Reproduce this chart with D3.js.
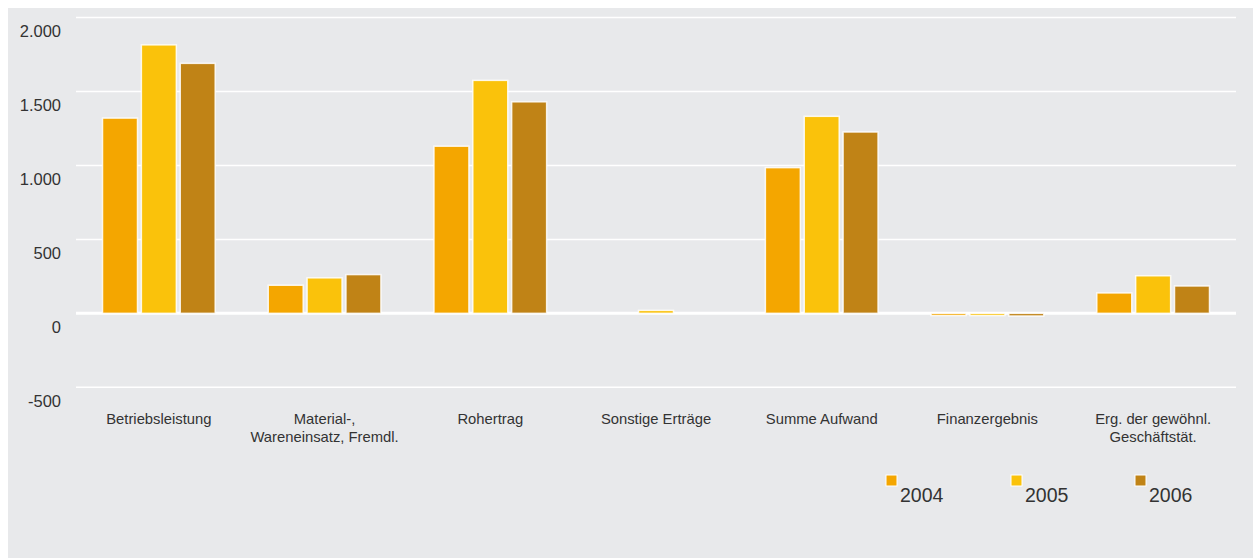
<!DOCTYPE html>
<html>
<head>
<meta charset="utf-8">
<script src="https://cdn.jsdelivr.net/npm/d3@7"></script>
<style>
  html, body { margin: 0; padding: 0; background: #ffffff; }
  svg { display: block; font-family: "Liberation Sans", Arial, sans-serif; }
  svg text { font-family: "Liberation Sans", Arial, sans-serif; }
</style>
</head>
<body>
<svg id="chart" width="1253" height="558"></svg>
<script>
const categories = [
  ["Betriebsleistung"],
  ["Material-,", "Wareneinsatz, Fremdl."],
  ["Rohertrag"],
  ["Sonstige Erträge"],
  ["Summe Aufwand"],
  ["Finanzergebnis"],
  ["Erg. der gewöhnl.", "Geschäftstät."]
];
const years = ["2004", "2005", "2006"];
const values2004 = [1320, 190, 1130, 0, 985, -15, 138];
const values2005 = [1815, 240, 1575, 20, 1332, -15, 254];
const values2006 = [1690, 262, 1430, 0, 1226, -18, 185];
const yTicks = [-500, 0, 500, 1000, 1500, 2000];
const yTickLabels = ["-500", "0", "500", "1.000", "1.500", "2.000"];
const colors = ["#F4A600", "#FAC20B", "#C08316"];

const series = [values2004, values2005, values2006];
const svg = d3.select("#chart");

// background panel
svg.append("rect").attr("x", 8).attr("y", 8).attr("width", 1245).attr("height", 550).attr("fill", "#E8E9EB");

const left = 76, right = 1236;
const y = d3.scaleLinear().domain([-500, 2000]).range([387.3, 17.5]);
const x0 = d3.scaleBand().domain(d3.range(categories.length)).range([left, right]).padding(0);
const bw = x0.bandwidth();
const x1 = d3.scaleBand().domain(years).range([bw * 0.16, bw * 0.84]).paddingInner(0.1);

// grid lines
const grid = svg.append("g");
grid.selectAll("line").data(yTicks).join("line")
  .attr("x1", left).attr("x2", right)
  .attr("y1", d => y(d)).attr("y2", d => y(d))
  .attr("stroke", "#ffffff")
  .attr("stroke-width", d => d === 0 ? 3 : 1.5);

// y labels
const yAxis = d3.axisLeft(y).tickValues(yTicks).tickSize(0).tickFormat(d => yTickLabels[yTicks.indexOf(d)]);
const ya = svg.append("g").attr("transform", `translate(61,14)`).call(yAxis);
ya.select(".domain").remove();
ya.attr("font-family", null);
ya.selectAll("text").attr("x", 0).attr("fill", "#333333").attr("font-size", 16.5);

// bars
const groups = svg.append("g").selectAll("g").data(categories).join("g")
  .attr("transform", (d, i) => `translate(${x0(i)},0)`);
groups.each(function(c, i) {
  d3.select(this).selectAll("rect").data(years).join("rect")
    .attr("x", yr => x1(yr))
    .attr("width", x1.bandwidth())
    .attr("y", (yr, j) => y(Math.max(0, series[j][i])))
    .attr("height", (yr, j) => Math.abs(y(series[j][i]) - y(0)))
    .attr("fill", (yr, j) => colors[j])
    .attr("stroke", "#ffffff")
    .attr("stroke-opacity", (yr, j) => series[j][i] === 0 ? 0 : 0.85)
    .attr("stroke-width", 1.5);
});

// x labels
const xl = svg.append("g");
categories.forEach((lines, i) => {
  const t = xl.append("text")
    .attr("x", x0(i) + bw / 2)
    .attr("y", 424)
    .attr("text-anchor", "middle")
    .attr("font-size", 14.8)
    .attr("fill", "#333333");
  lines.forEach((ln, k) => {
    t.append("tspan").attr("x", x0(i) + bw / 2).attr("dy", k === 0 ? 0 : 18).text(ln);
  });
});

// legend
const legendX = [886, 1011, 1135];
const lg = svg.append("g");
years.forEach((yr, j) => {
  lg.append("rect").attr("x", legendX[j]).attr("y", 475).attr("width", 11).attr("height", 11)
    .attr("fill", colors[j]).attr("stroke", "#ffffff").attr("stroke-width", 1);
  lg.append("text").attr("x", legendX[j] + 14).attr("y", 502)
    .attr("font-size", 19.5).attr("fill", "#333333").text(yr);
});
</script>
</body>
</html>
